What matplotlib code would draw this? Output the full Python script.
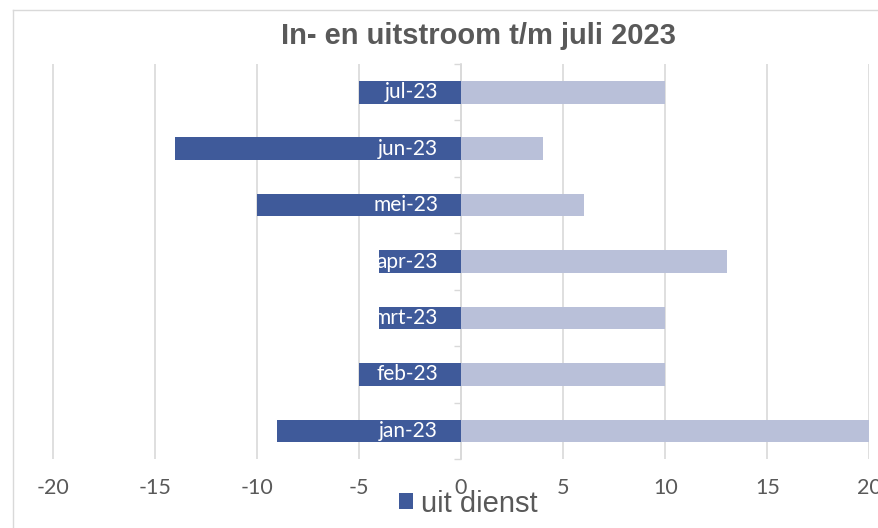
import matplotlib
matplotlib.use("Agg")
import matplotlib.pyplot as plt
import numpy as np
from matplotlib.lines import Line2D

# data (bottom to top)
months = ["jan-23", "feb-23", "mrt-23", "apr-23", "mei-23", "jun-23", "jul-23"]
uit_dienst = [-9, -5, -4, -4, -10, -14, -5]
in_dienst = [20, 10, 10, 13, 6, 4, 10]
xticks = [-20, -15, -10, -5, 0, 5, 10, 15, 20]

dark = "#3F5A9A"
light = "#B9C0D9"
grey = "#D9D9D9"
text_grey = "#595959"

W, H = 879, 528
fig = plt.figure(figsize=(W / 100, H / 100), dpi=100)
ax = fig.add_axes([52.5 / W, 1 - 459 / H, 817 / W, 395 / H])

y = np.arange(len(months))
neg = ax.barh(y, uit_dienst, height=0.4, color=dark, zorder=2)
ax.barh(y, in_dienst, height=0.4, color=light, zorder=2)

ax.set_xlim(-20, 20)
ax.set_ylim(-0.5, len(months) - 0.5)
ax.set_xticks(xticks)
ax.set_xticklabels([str(v) for v in xticks], family=["Lato", "DejaVu Sans"],
                   fontsize=15.5, color=text_grey)
ax.tick_params(axis="x", length=0, pad=14)
ax.xaxis.grid(True, color=grey, linewidth=1.2, zorder=0)
ax.set_axisbelow(True)

# category boundaries as ticks on the zero axis
ax.set_yticks(np.arange(-0.5, len(months), 1))
ax.set_yticklabels([])
ax.tick_params(axis="y", length=5, width=1, color=grey, direction="out")
ax.spines["left"].set_position(("data", 0))
ax.spines["left"].set_color(grey)
ax.spines["left"].set_linewidth(1.2)
ax.spines["left"].set_zorder(1)
for s in ["top", "right", "bottom"]:
    ax.spines[s].set_visible(False)

# month labels inside the bars next to the axis
for yi, m in zip(y, months):
    ax.annotate(m, (0, yi), xytext=(-16.5, 0), textcoords="offset points",
                ha="right", va="center", color="white", fontsize=15,
                family=["Lato", "DejaVu Sans"], zorder=3)

fig.text(478.5 / W, 1 - 44 / H, "In- en uitstroom t/m juli 2023", ha="center",
         va="baseline", fontsize=21, fontweight="bold", color=text_grey,
         family="Liberation Sans")

fig.legend([neg], ["uit dienst"], loc="center",
           bbox_to_anchor=(468.5 / W, 1 - 503.5 / H), frameon=False,
           prop={"family": "Liberation Sans", "size": 21},
           labelcolor=text_grey, handlelength=0.48, handleheight=0.48,
           handletextpad=0.28, borderpad=0, borderaxespad=0)

# chart area border (runs off the right and bottom edge)
fig.add_artist(Line2D([13.5 / W, 1], [1 - 9.5 / H, 1 - 9.5 / H], color=grey, linewidth=1))
fig.add_artist(Line2D([13.5 / W, 13.5 / W], [1 - 9.5 / H, 0], color=grey, linewidth=1))

fig.savefig("out.png", dpi=100)
